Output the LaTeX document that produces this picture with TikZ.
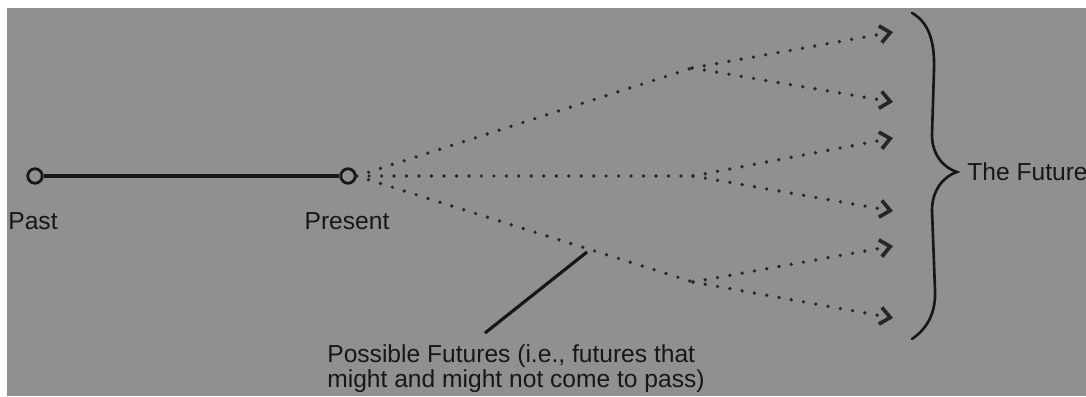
\documentclass[tikz,border=0pt]{standalone}
\usepackage{fontspec}
\setmainfont{Liberation Sans}
\usetikzlibrary{arrows.meta, positioning, calc}

\definecolor{bggrey}{gray}{0.565}
\definecolor{ink}{gray}{0.09}
\definecolor{dotink}{gray}{0.15}

\begin{document}
\begin{tikzpicture}[
    x=0.02cm, y=-0.02cm,
    label/.style    = {inner sep=0pt, text=ink, font=\fontsize{14}{14.4}\selectfont},
    endpoint/.style = {circle, draw=ink, fill=bggrey, line width=1.6pt, minimum size=0.29cm, inner sep=0pt},
    timeline/.style = {draw=ink, line width=1.8pt},
    dots/.style     = {draw=dotink, line width=2.1pt, line cap=round, dash pattern=on 0pt off 7.1pt},
    branch/.style   = {dots, -{Straight Barb[length=0.2cm, width=0.34cm, line width=2.1pt]}},
    pointer/.style  = {draw=ink, line width=1.8pt}
]

    % --- Latar ---
    \useasboundingbox (0,0) rectangle (1086,396);
    \fill[white] (0,0) rectangle (1086,396);
    \fill[bggrey] (7,8) rectangle (1086,396);

    % --- Garis Waktu ---
    \node (past)    [endpoint] at (35,176) {};
    \node (present) [endpoint] at (348,176) {};
    \node (pastlbl)    [label] at (33,221.5) {Past};
    \node (presentlbl) [label] at (347,221.5) {Present};

    % --- Titik Cabang & Ujung ---
    \coordinate (splitup)  at (692,68);
    \coordinate (splitmid) at (693,176);
    \coordinate (splitlow) at (693,282);
    \coordinate (tip1) at (893,32);
    \coordinate (tip2) at (893,102);
    \coordinate (tip3) at (893,138);
    \coordinate (tip4) at (893,211);
    \coordinate (tip5) at (893,246);
    \coordinate (tip6) at (893,318);

    % --- Label Kanan & Bawah ---
    \node (futurelbl) [label, anchor=west] at (967,171.5) {The Future};
    \node (possiblelbl) [label, anchor=north west, align=left] at (327,344)
        {Possible Futures (i.e., futures that\\might and might not come to pass)};
    \coordinate (ptrhead) at (587,252);
    \coordinate (ptrtail) at (485,333);

    % --- Garis ---
    \draw [timeline] (past.east) -- (present.west);

    \draw [dots] (present.east) -- (splitup);
    \draw [dots] (present.east) -- (splitmid);
    \draw [dots] (present.east) -- (splitlow);

    \draw [branch] (splitup) -- (tip1);
    \draw [branch] (splitup) -- (tip2);
    \draw [branch] (splitmid) -- (tip3);
    \draw [branch] (splitmid) -- (tip4);
    \draw [branch] (splitlow) -- (tip5);
    \draw [branch] (splitlow) -- (tip6);

    \draw [pointer] (ptrhead) -- (ptrtail);

    % Kurung kurawal
    \draw [draw=ink, line width=1.5pt, line cap=round]
        (912,13) .. controls (928,22) and (935,40) .. (934,70)
        -- (932,135) .. controls (932,155) and (944,168) .. (957,172)
        .. controls (944,176) and (932,190) .. (932,210)
        -- (935,290) .. controls (936,312) and (928,328) .. (912,339);

\end{tikzpicture}
\end{document}
